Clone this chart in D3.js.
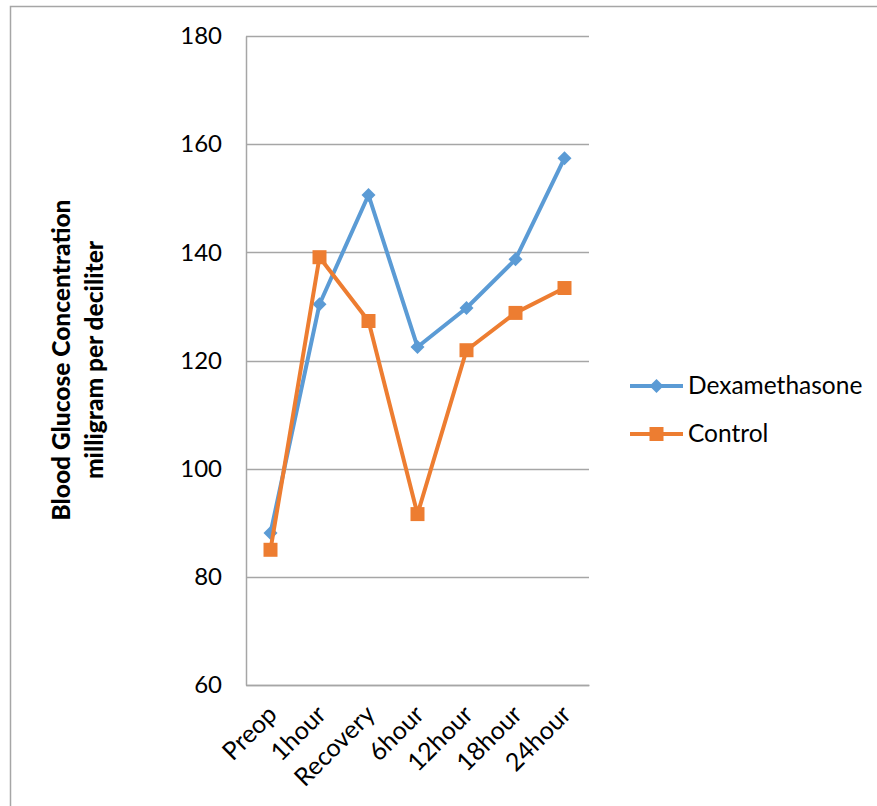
<!DOCTYPE html>
<html>
<head>
<meta charset="utf-8">
<script src="https://cdn.jsdelivr.net/npm/d3@7"></script>
<style>
  html, body { margin: 0; padding: 0; background: #fff; }
  svg { display: block; }
  text { font-family: Lato, "Open Sans", sans-serif; fill: #000; }
</style>
</head>
<body>
<svg id="chart" width="877" height="806"></svg>
<script>
// Blood glucose over the perioperative period, mg/dL
const timepoints = ["Preop", "1hour", "Recovery", "6hour", "12hour", "18hour", "24hour"];
const dexamethasone = [88.1, 130.4, 150.6, 122.5, 129.7, 138.7, 157.4];
const control = [85.0, 139.1, 127.3, 91.6, 121.9, 128.8, 133.4];
const yTicks = [60, 80, 100, 120, 140, 160, 180];
const seriesNames = ["Dexamethasone", "Control"];
const seriesColors = ["#5B9BD5", "#ED7D31"];

const svg = d3.select("#chart");
const W = 877, H = 806;

// outer chart frame
svg.append("rect")
  .attr("x", 10.5).attr("y", 6.5)
  .attr("width", W).attr("height", H)
  .attr("fill", "none").attr("stroke", "#a6a6a6").attr("stroke-width", 1.5);

const plot = { left: 246, right: 589, top: 36, bottom: 685 };

const x = d3.scaleBand().domain(timepoints).range([plot.left, plot.right]);
const y = d3.scaleLinear().domain([60, 180]).range([plot.bottom, plot.top]);

// horizontal gridlines
svg.append("g")
  .selectAll("line")
  .data(yTicks)
  .join("line")
  .attr("x1", plot.left).attr("x2", plot.right)
  .attr("y1", d => Math.round(y(d)) + 0.5).attr("y2", d => Math.round(y(d)) + 0.5)
  .attr("stroke", "#a6a6a6").attr("stroke-width", 1.3);

// y axis
const yAxis = svg.append("g")
  .attr("transform", `translate(${plot.left},0)`)
  .call(d3.axisLeft(y).tickValues(yTicks).tickSize(0).tickPadding(24));
yAxis.select(".domain").attr("stroke", "#a6a6a6").attr("stroke-width", 1.5);
yAxis.selectAll("text")
  .style("font-family", "Lato, 'Open Sans', sans-serif")
  .style("font-size", "24px").attr("fill", "#000");

// x axis with rotated category labels
const xAxis = svg.append("g")
  .attr("transform", `translate(0,${plot.bottom})`)
  .call(d3.axisBottom(x).tickSize(0).tickPadding(0));
xAxis.select(".domain").attr("stroke", "#a6a6a6").attr("stroke-width", 1.5);
xAxis.selectAll("text")
  .style("font-family", "Lato, 'Open Sans', sans-serif")
  .style("font-size", "25px").attr("fill", "#000")
  .attr("text-anchor", "end")
  .attr("dy", null)
  .attr("transform", "translate(8,31) rotate(-45)");

// y axis title, two centred bold lines
const titleG = svg.append("g").attr("transform", "translate(78,360) rotate(-90)");
["Blood Glucose Concentration", "milligram per deciliter"].forEach((t, i) => {
  titleG.append("text")
    .attr("x", 0).attr("y", i * 33 - 8)
    .attr("text-anchor", "middle")
    .style("font-weight", "900").style("font-size", "24.5px")
    .text(t);
});

const cx = d => x(d) + x.bandwidth() / 2;
const line = d3.line().x((d, i) => cx(timepoints[i])).y(d => y(d));

const diamondPath = d3.symbol().type(d3.symbolSquare).size(98)();
const squarePath = d3.symbol().type(d3.symbolSquare).size(196)();

function drawSeries(values, color, markerPath, rotate) {
  const g = svg.append("g");
  g.append("path")
    .datum(values)
    .attr("d", line)
    .attr("fill", "none").attr("stroke", color)
    .attr("stroke-width", 4).attr("stroke-linejoin", "round");
  g.selectAll("path.m")
    .data(values)
    .join("path").attr("class", "m")
    .attr("d", markerPath)
    .attr("transform", (d, i) => `translate(${cx(timepoints[i])},${y(d)})${rotate ? " rotate(45)" : ""}`)
    .attr("fill", color);
}

drawSeries(dexamethasone, seriesColors[0], diamondPath, true);
drawSeries(control, seriesColors[1], squarePath, false);

// legend
const legend = svg.append("g");
const legendRows = [
  { name: seriesNames[0], color: seriesColors[0], marker: diamondPath, rot: true, y: 386 },
  { name: seriesNames[1], color: seriesColors[1], marker: squarePath, rot: false, y: 434 }
];
legendRows.forEach(r => {
  legend.append("line")
    .attr("x1", 630).attr("x2", 683).attr("y1", r.y).attr("y2", r.y)
    .attr("stroke", r.color).attr("stroke-width", 4);
  legend.append("path")
    .attr("d", r.marker)
    .attr("transform", `translate(656.5,${r.y})${r.rot ? " rotate(45)" : ""}`)
    .attr("fill", r.color);
  legend.append("text")
    .attr("x", 688).attr("y", r.y + 8)
    .style("font-size", "24.5px")
    .text(r.name);
});
</script>
</body>
</html>
